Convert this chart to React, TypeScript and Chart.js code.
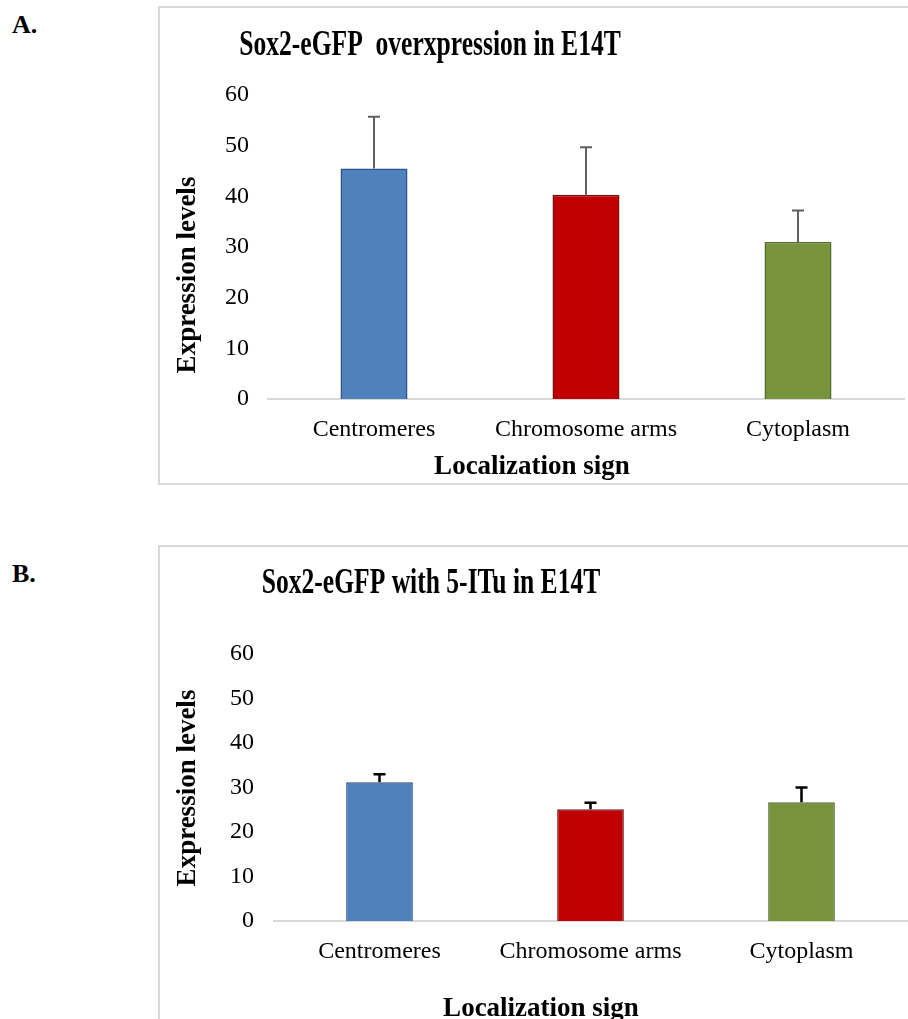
import React, { useEffect, useRef } from "react";
import { Chart, registerables } from "chart.js";

Chart.register(...registerables);

const categories = ["Centromeres", "Chromosome arms", "Cytoplasm"];
const valuesA = [45.5, 40.3, 31.0];
const errorsA = [10.2, 9.4, 6.2];
const valuesB = [31.2, 25.1, 26.7];
const errorsB = [1.8, 1.5, 3.3];
const yTickValues = [0, 10, 20, 30, 40, 50, 60];
const titleA = "Sox2-eGFP  overxpression in E14T";
const titleB = "Sox2-eGFP with 5-ITu in E14T";
const xTitle = "Localization sign";
const yTitle = "Expression levels";

const FONT = '"Liberation Serif", "Times New Roman", serif';
const barColors = ["#4F81BD", "#C00000", "#77933C"];
const barBorders = ["#2F5185", "#7A1010", "#4E6B2A"];

type TextItem = { text: string; x: number; y: number; font: string; rotate?: number; sx?: number };

type Cfg = {
  values: number[];
  errors: number[];
  errColor: string;
  errWidth: number;
  padding: { left: number; right: number; top: number; bottom: number };
  yAxisWidth: number;
  xAxisHeight: number;
  yTickPad: number;
  xTickPad: number;
  texts: TextItem[];
};

function makeChart(canvas: HTMLCanvasElement, cfg: Cfg) {
  const textPlugin = {
    id: "freeText",
    afterDraw(chart: any) {
      const ctx = chart.ctx;
      for (const t of cfg.texts) {
        ctx.save();
        ctx.font = t.font;
        ctx.fillStyle = "#000";
        ctx.textAlign = "center";
        ctx.textBaseline = "alphabetic";
        ctx.translate(t.x, t.y);
        if (t.rotate) ctx.rotate(t.rotate);
        ctx.scale(t.sx || 1, 1);
        ctx.fillText(t.text, 0, 0);
        ctx.restore();
      }
    },
  };
  const errPlugin = {
    id: "errBars",
    afterDatasetsDraw(chart: any) {
      const ctx = chart.ctx;
      const meta = chart.getDatasetMeta(0);
      const ys = chart.scales.y;
      meta.data.forEach((el: any, i: number) => {
        const top = ys.getPixelForValue(cfg.values[i] + cfg.errors[i]);
        const base = ys.getPixelForValue(cfg.values[i]);
        ctx.save();
        ctx.strokeStyle = cfg.errColor;
        ctx.lineWidth = cfg.errWidth;
        ctx.beginPath();
        ctx.moveTo(el.x, base);
        ctx.lineTo(el.x, top);
        ctx.moveTo(el.x - 6, top);
        ctx.lineTo(el.x + 6, top);
        ctx.stroke();
        ctx.restore();
      });
    },
  };
  return new Chart(canvas, {
    type: "bar",
    data: {
      labels: categories,
      datasets: [
        {
          data: cfg.values,
          backgroundColor: barColors,
          borderColor: barBorders,
          borderWidth: 1.5,
          barPercentage: 0.316,
          categoryPercentage: 1,
        },
      ],
    },
    options: {
      animation: false,
      responsive: true,
      maintainAspectRatio: false,
      layout: { padding: cfg.padding },
      plugins: { legend: { display: false }, tooltip: { enabled: false }, title: { display: false } },
      scales: {
        x: {
          grid: { display: false },
          border: { display: true, color: "#D9D9D9", width: 2 },
          ticks: { color: "#000", font: { family: FONT, size: 24 }, padding: cfg.xTickPad, maxRotation: 0, autoSkip: false },
          afterFit: (s: any) => {
            s.height = cfg.xAxisHeight;
          },
        },
        y: {
          min: 0,
          max: 60,
          grid: { display: false },
          border: { display: false },
          ticks: { color: "#000", font: { family: FONT, size: 24 }, padding: cfg.yTickPad },
          afterBuildTicks: (s: any) => {
            s.ticks = yTickValues.map((v) => ({ value: v }));
          },
          afterFit: (s: any) => {
            s.width = cfg.yAxisWidth;
          },
        },
      },
    },
    plugins: [textPlugin, errPlugin],
  });
}

function Panel({ cfg, left, top, width, height }: { cfg: Cfg; left: number; top: number; width: number; height: number }) {
  const ref = useRef<HTMLCanvasElement>(null);
  useEffect(() => {
    if (!ref.current) return;
    const c = makeChart(ref.current, cfg);
    return () => c.destroy();
  }, []);
  return (
    <div style={{ position: "absolute", left, top, width, height }}>
      <canvas ref={ref} />
    </div>
  );
}

const titleFont = `bold 36px ${FONT}`;
const axisTitleFont = `bold 27px ${FONT}`;

const cfgA: Cfg = {
  values: valuesA,
  errors: errorsA,
  errColor: "#5F5F5F",
  errWidth: 2,
  padding: { left: 0, right: 4, top: 87, bottom: 0 },
  yAxisWidth: 108,
  xAxisHeight: 85,
  yTickPad: 11,
  xTickPad: 8,
  texts: [
    { text: titleA, x: 270, y: 47, font: titleFont, sx: 0.71 },
    { text: xTitle, x: 372, y: 466, font: axisTitleFont },
    { text: yTitle, x: 35, y: 267, font: axisTitleFont, rotate: -Math.PI / 2 },
  ],
};

const cfgB: Cfg = {
  values: valuesB,
  errors: errorsB,
  errColor: "#000000",
  errWidth: 2.5,
  padding: { left: 0, right: 1, top: 107, bottom: 0 },
  yAxisWidth: 114,
  xAxisHeight: 98,
  yTickPad: 12,
  xTickPad: 8,
  texts: [
    { text: titleB, x: 271, y: 46, font: titleFont, sx: 0.71 },
    { text: xTitle, x: 381, y: 469, font: axisTitleFont },
    { text: yTitle, x: 35, y: 241, font: axisTitleFont, rotate: -Math.PI / 2 },
  ],
};

export default function App() {
  const labelStyle: React.CSSProperties = {
    position: "absolute",
    left: 12,
    font: `bold 26px ${FONT}`,
    lineHeight: "26px",
    color: "#000",
  };
  return (
    <div style={{ position: "absolute", left: 0, top: 0, width: 908, height: 1019, overflow: "hidden", background: "#fff" }}>
      <div style={{ ...labelStyle, top: 12 }}>A.</div>
      <div style={{ ...labelStyle, top: 561 }}>B.</div>
      <div
        style={{
          position: "absolute",
          left: 158,
          top: 6,
          width: 780,
          height: 479,
          boxSizing: "border-box",
          border: "2px solid #D9D9D9",
        }}
      />
      <div
        style={{
          position: "absolute",
          left: 158,
          top: 545,
          width: 780,
          height: 500,
          boxSizing: "border-box",
          border: "2px solid #D9D9D9",
        }}
      />
      <Panel cfg={cfgA} left={160} top={8} width={748} height={476} />
      <Panel cfg={cfgB} left={160} top={547} width={748} height={472} />
    </div>
  );
}
